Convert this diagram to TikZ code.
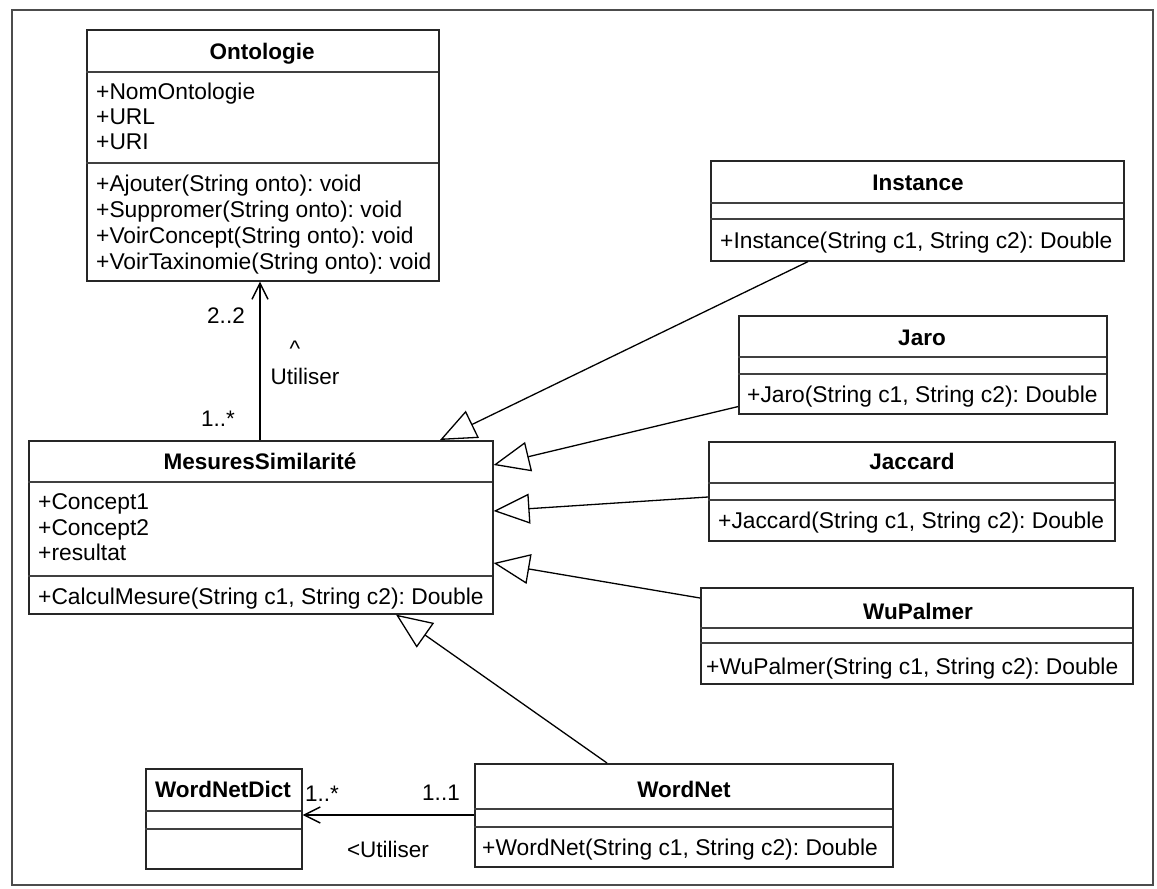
\documentclass[tikz,border=0pt]{standalone}
\usepackage{fontspec}
\setmainfont{Liberation Sans}
\usetikzlibrary{arrows.meta,calc}
\frenchspacing

\tikzset{
  classbox/.style={draw=black!85, line width=1.6pt, anchor=north west, inner sep=0pt, fill=white},
  ctitle/.style={font=\fontsize{22.5}{25}\selectfont\bfseries, inner sep=0pt, text height=15.5pt, text depth=0pt},
  member/.style={font=\fontsize{22.8}{25}\selectfont, anchor=west, inner sep=0pt, text height=15.5pt, text depth=0pt},
  lbl/.style={font=\fontsize{22.5}{25}\selectfont, inner sep=0pt, text height=15.5pt, text depth=0pt},
  sepline/.style={draw=black!75, line width=2pt},
  assoc/.style={draw=black, line width=1.5pt, -{Straight Barb[length=16pt,width=16pt,line width=1.5pt]}},
  inherit/.style={draw=black, line width=1.3pt, -{Triangle[open,length=36pt,width=30pt,fill=white,line width=1.3pt]}},
}

\begin{document}
\begin{tikzpicture}[x=1pt,y=-1pt]
\useasboundingbox (0,0) rectangle (1157,889);
\fill[white] (0,0) rectangle (1157,889);

% outer frame
\draw[line width=1.6pt, black!70] (12,10) rectangle (1153,885);

% ---- Ontologie
\node[classbox, minimum width=352pt, minimum height=251pt] (onto) at (86,29) {};
\draw[sepline] (86,72) -- (438,72);
\draw[sepline] (86,163) -- (438,163);
\node[ctitle] (ontoT) at (262,52) {Ontologie};
\node[member] (onto1) at (96,92) {+NomOntologie};
\node[member] (onto2) at (96,117) {+URL};
\node[member] (onto3) at (96,142) {+URI};
\node[member] (onto4) at (96,184) {+Ajouter(String onto): void};
\node[member] (onto5) at (96,210) {+Suppromer(String onto): void};
\node[member] (onto6) at (96,236) {+VoirConcept(String onto): void};
\node[member] (onto7) at (96,262) {+VoirTaxinomie(String onto): void};

% ---- MesuresSimilarité
\node[classbox, minimum width=464pt, minimum height=173pt] (ms) at (28,440) {};
\draw[sepline] (28,482) -- (492,482);
\draw[sepline] (28,576) -- (492,576);
\node[ctitle] (msT) at (260,462) {MesuresSimilarité};
\node[member] (ms1) at (38,502) {+Concept1};
\node[member] (ms2) at (38,528) {+Concept2};
\node[member] (ms3) at (38,553) {+resultat};
\node[member] (ms4) at (38,597) {+CalculMesure(String c1, String c2): Double};

% ---- Instance
\node[classbox, minimum width=413pt, minimum height=100pt] (inst) at (710,160) {};
\draw[sepline] (710,203) -- (1123,203);
\draw[sepline] (710,219) -- (1123,219);
\node[ctitle] (instT) at (918,183) {Instance};
\node[member] (inst1) at (720,241) {+Instance(String c1, String c2): Double};

% ---- Jaro
\node[classbox, minimum width=368pt, minimum height=98pt] (jaro) at (738,315) {};
\draw[sepline] (738,357) -- (1106,357);
\draw[sepline] (738,374) -- (1106,374);
\node[ctitle] (jaroT) at (922,338) {Jaro};
\node[member] (jaro1) at (747,395) {+Jaro(String c1, String c2): Double};

% ---- Jaccard
\node[classbox, minimum width=406pt, minimum height=99pt] (jac) at (708,441) {};
\draw[sepline] (708,483) -- (1114,483);
\draw[sepline] (708,500) -- (1114,500);
\node[ctitle] (jacT) at (912,462) {Jaccard};
\node[member] (jac1) at (718,521) {+Jaccard(String c1, String c2): Double};

% ---- WuPalmer
\node[classbox, minimum width=432pt, minimum height=96pt] (wu) at (700,587) {};
\draw[sepline] (700,628) -- (1132,628);
\draw[sepline] (700,643) -- (1132,643);
\node[ctitle] (wuT) at (918,612) {WuPalmer};
\node[member] (wu1) at (706,667) {+WuPalmer(String c1, String c2): Double};

% ---- WordNet
\node[classbox, minimum width=418pt, minimum height=103pt] (wn) at (474,763) {};
\draw[sepline] (474,809) -- (892,809);
\draw[sepline] (474,827) -- (892,827);
\node[ctitle] (wnT) at (684,790) {WordNet};
\node[member] (wn1) at (482,848) {+WordNet(String c1, String c2): Double};

% ---- WordNetDict
\node[classbox, minimum width=156pt, minimum height=100pt] (wnd) at (145,768) {};
\draw[sepline] (145,811) -- (301,811);
\draw[sepline] (145,829) -- (301,829);
\node[ctitle] (wndT) at (223,790) {WordNetDict};

% ---- association MesuresSimilarité -> Ontologie
\draw[assoc] ([xshift=232pt]ms.north west) -- ([xshift=174pt]onto.south west);
\node[lbl] (m22) at (226,316) {2..2};
\node[lbl] (caret) at (295,349) {\^{}};
\node[lbl] (util1) at (305,377) {Utiliser};
\node[lbl] (m1s) at (218,419) {1..*};

% ---- association WordNet -> WordNetDict
\draw[assoc] ([yshift=-52pt]wn.north west) -- ([yshift=-47pt]wnd.north east);
\node[lbl] (m1s2) at (322,794) {1..*};
\node[lbl] (m11) at (441,793) {1..1};
\node[lbl] (util2) at (388,850) {<Utiliser};

% ---- generalisations
\draw[inherit] ([xshift=98pt]inst.south west) -- ([xshift=412pt]ms.north west);
\draw[inherit] ([yshift=8pt]jaro.south west) -- ([yshift=-25pt]ms.north east);
\draw[inherit] ([yshift=-56pt]jac.north west) -- ([yshift=-71pt]ms.north east);
\draw[inherit] ([yshift=-11pt]wu.north west) -- ([yshift=-123pt]ms.north east);
\draw[inherit] ([xshift=133pt]wn.north west) -- ([xshift=368pt]ms.south west);
\end{tikzpicture}
\end{document}
